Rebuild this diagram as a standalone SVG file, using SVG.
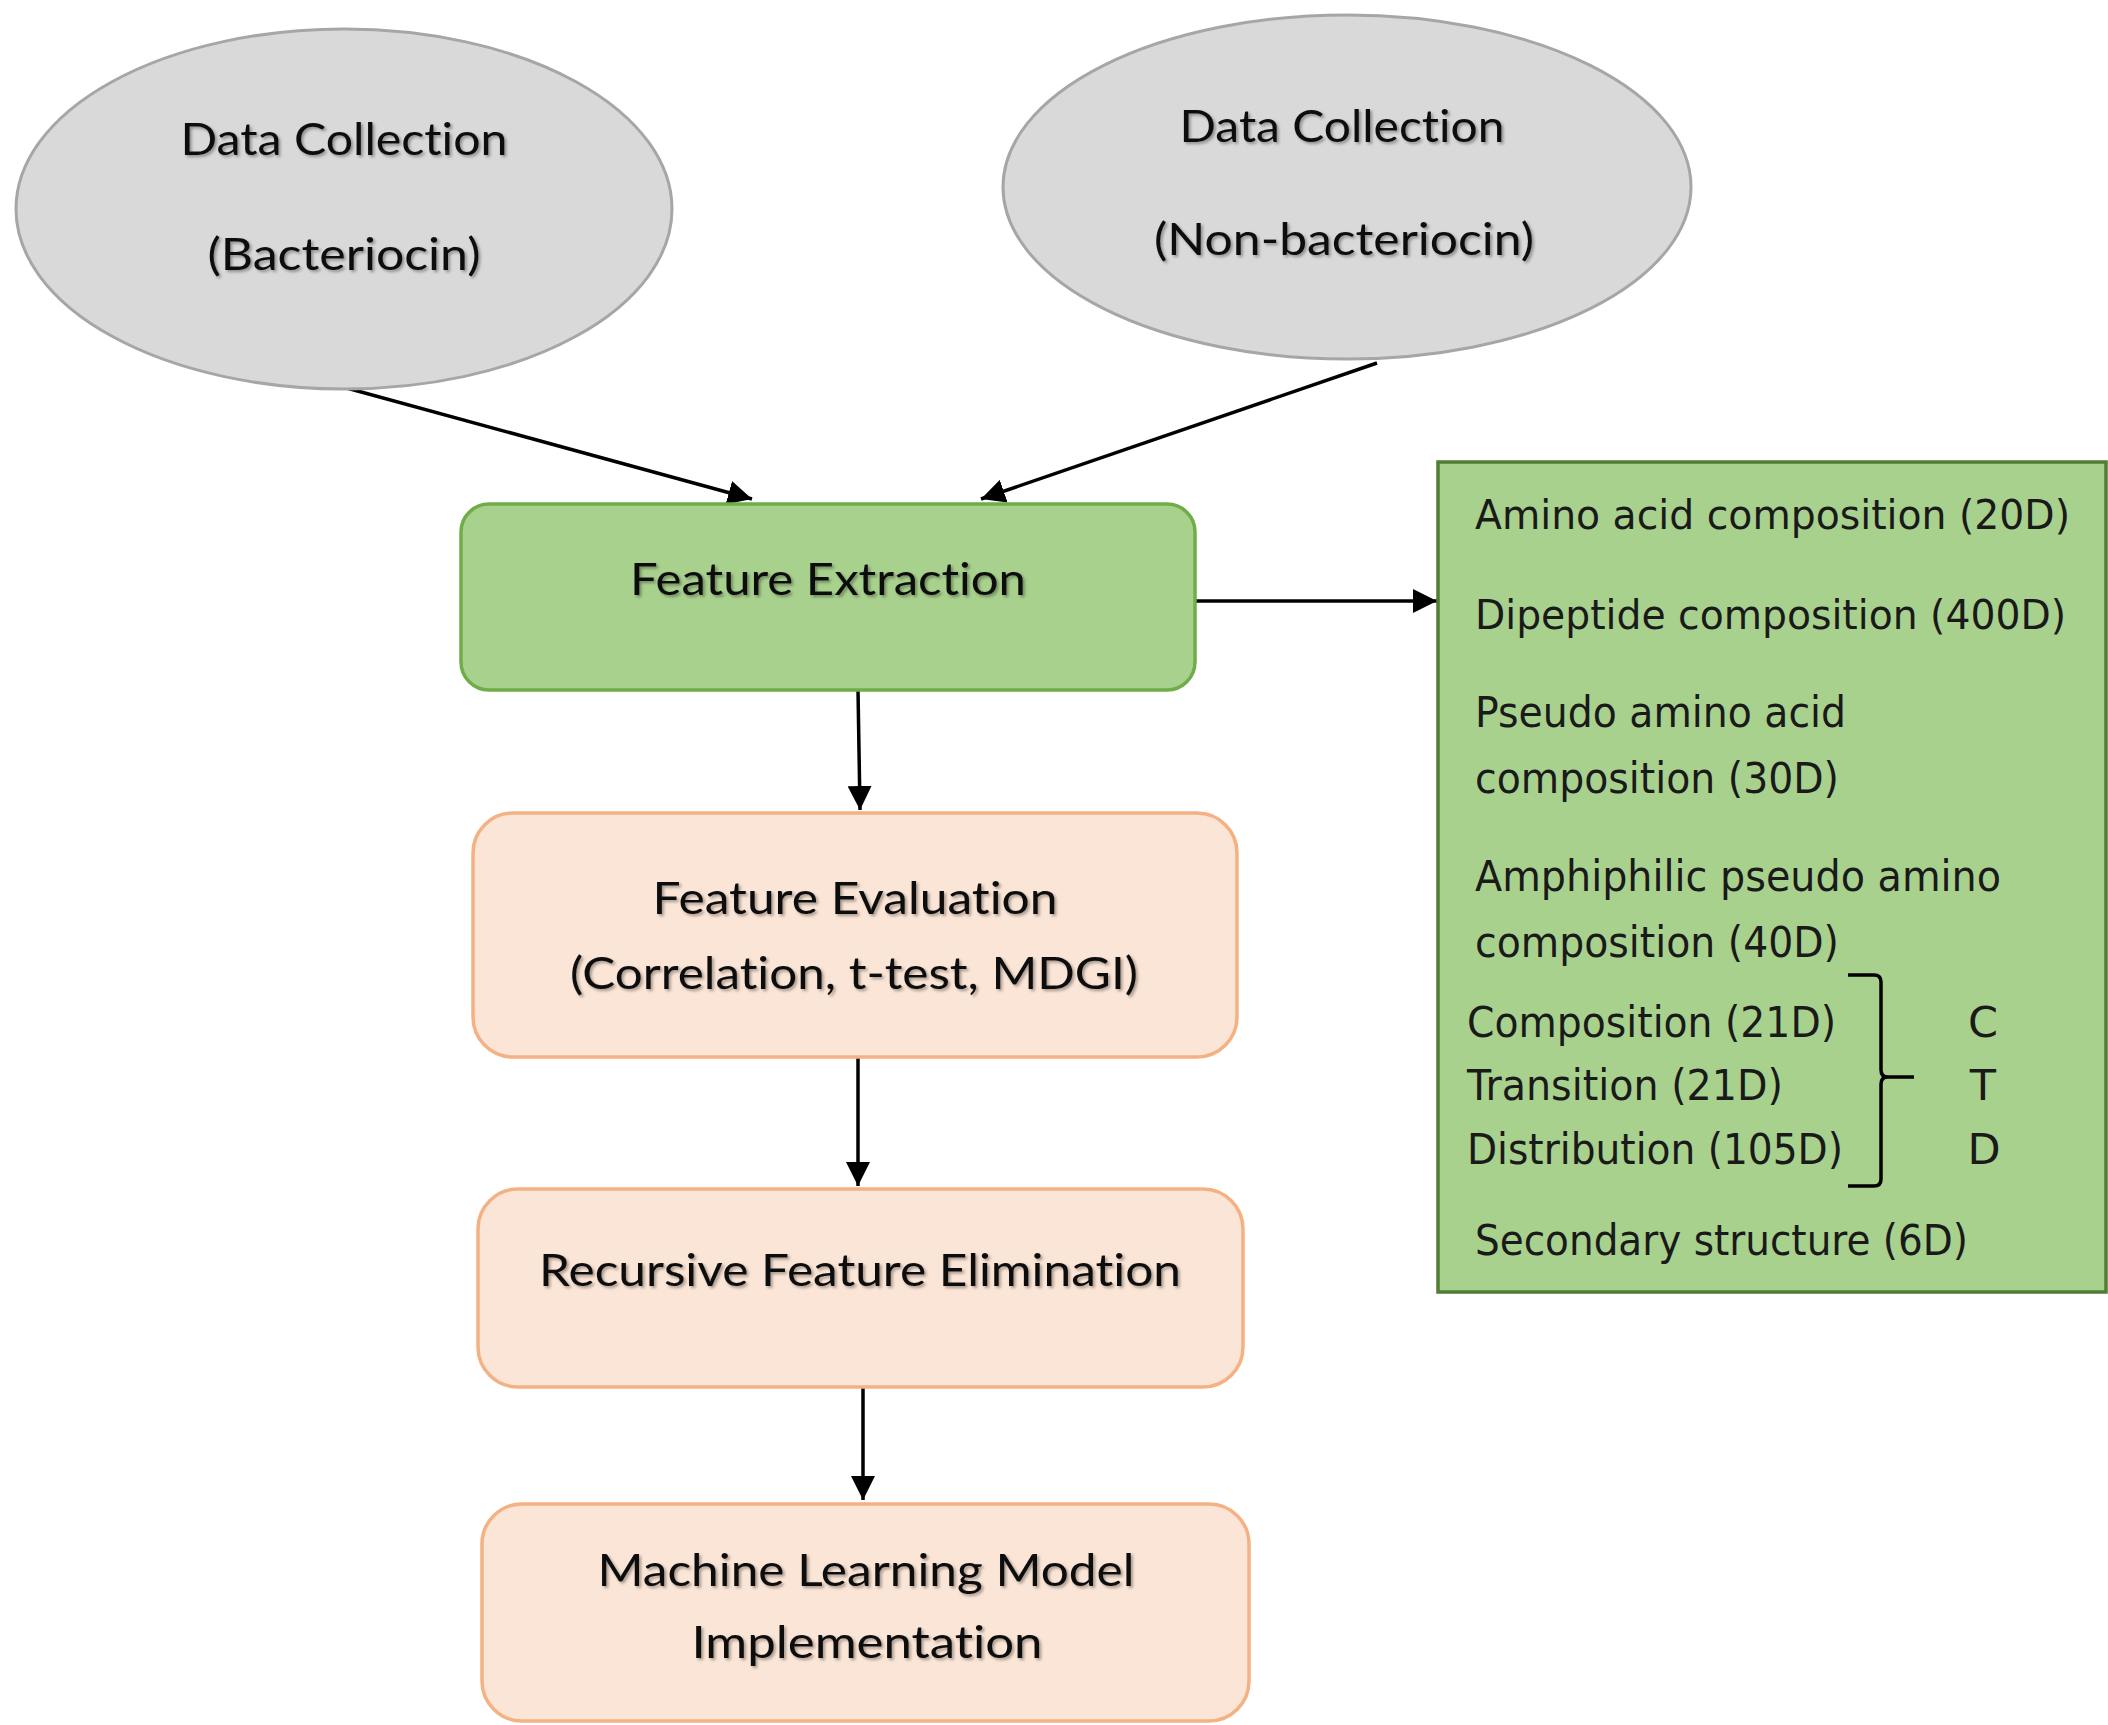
<svg xmlns="http://www.w3.org/2000/svg" width="2108" height="1725" viewBox="0 0 2108 1725">
<defs>
<style>
.ell{fill:#d9d9d9;stroke:#a6a6a6;stroke-width:3}
.grn{fill:#a9d18e;stroke:#70ad47;stroke-width:3.5}
.pch{fill:#fbe5d6;stroke:#f4b183;stroke-width:3.5}
.panel{fill:#a9d18e;stroke:#507e32;stroke-width:3.5}
.t{font-family:Lato,"Open Sans",sans-serif;font-size:45px;fill:#111;text-anchor:middle;font-variant-ligatures:none;filter:url(#sh)}
.r{font-family:"DejaVu Sans",Verdana,sans-serif;font-size:43px;fill:#1a1a1a}
.w{font-size:40px}
.con{stroke:#000;stroke-width:3.5;fill:none;marker-end:url(#ah)}
</style>
<marker id="ah" markerUnits="userSpaceOnUse" markerWidth="26" markerHeight="24" refX="24" refY="12" orient="auto">
<path d="M0,0 L24,12 L0,24 z" fill="#000"/>
</marker>
<filter id="sh" x="-10%" y="-30%" width="120%" height="160%">
<feDropShadow dx="2" dy="2" stdDeviation="1.5" flood-color="#000" flood-opacity="0.35"/>
</filter>
</defs>
<rect width="2108" height="1725" fill="#fff"/>

<g id="connectors">
<line class="con" x1="343" y1="387" x2="752" y2="499"/>
<line class="con" x1="1377" y1="363" x2="981" y2="499"/>
<line class="con" x1="1195" y1="601" x2="1437" y2="601"/>
<line class="con" x1="858" y1="690" x2="860" y2="810"/>
<line class="con" x1="858" y1="1057" x2="858" y2="1186"/>
<line class="con" x1="863" y1="1388" x2="863" y2="1500"/>
</g>

<g id="dc-bacteriocin">
<ellipse class="ell" cx="344" cy="209" rx="328" ry="180"/>
<text class="t" x="344" y="155" textLength="327" lengthAdjust="spacingAndGlyphs">Data Collection</text>
<text class="t" x="344" y="270" textLength="273" lengthAdjust="spacingAndGlyphs">(Bacteriocin)</text>
</g>

<g id="dc-nonbacteriocin">
<ellipse class="ell" cx="1347" cy="187" rx="344" ry="172"/>
<text class="t" x="1342" y="142" textLength="325" lengthAdjust="spacingAndGlyphs">Data Collection</text>
<text class="t" x="1344" y="255" textLength="380" lengthAdjust="spacingAndGlyphs">(Non-bacteriocin)</text>
</g>

<g id="feature-extraction">
<rect class="grn" x="461" y="504" width="734" height="186" rx="28"/>
<text class="t" x="828" y="595" textLength="396" lengthAdjust="spacingAndGlyphs">Feature Extraction</text>
</g>

<g id="feature-evaluation">
<rect class="pch" x="473" y="813" width="764" height="244" rx="40"/>
<text class="t" x="855" y="914" textLength="405" lengthAdjust="spacingAndGlyphs">Feature Evaluation</text>
<text class="t" x="854" y="989" textLength="568" lengthAdjust="spacingAndGlyphs">(Correlation, t-test, MDGI)</text>
</g>

<g id="rfe">
<rect class="pch" x="478" y="1189" width="765" height="198" rx="40"/>
<text class="t" x="860" y="1286" textLength="642" lengthAdjust="spacingAndGlyphs">Recursive Feature Elimination</text>
</g>

<g id="ml-model">
<rect class="pch" x="482" y="1504" width="767" height="217" rx="40"/>
<text class="t" x="866" y="1586" textLength="537" lengthAdjust="spacingAndGlyphs">Machine Learning Model</text>
<text class="t" x="867" y="1658" textLength="351" lengthAdjust="spacingAndGlyphs">Implementation</text>
</g>

<g id="feature-list">
<rect class="panel" x="1438" y="462" width="668" height="830"/>
<text class="r w" x="1475" y="529" textLength="595" lengthAdjust="spacingAndGlyphs">Amino acid composition (20D)</text>
<text class="r w" x="1475" y="629" textLength="591" lengthAdjust="spacingAndGlyphs">Dipeptide composition (400D)</text>
<text class="r" x="1475" y="727" textLength="371" lengthAdjust="spacingAndGlyphs">Pseudo amino acid</text>
<text class="r" x="1475" y="793" textLength="364" lengthAdjust="spacingAndGlyphs">composition (30D)</text>
<text class="r" x="1475" y="891" textLength="526" lengthAdjust="spacingAndGlyphs">Amphiphilic pseudo amino</text>
<text class="r" x="1475" y="957" textLength="364" lengthAdjust="spacingAndGlyphs">composition (40D)</text>
<text class="r" x="1467" y="1037" textLength="369" lengthAdjust="spacingAndGlyphs">Composition (21D)</text>
<text class="r" x="1467" y="1100" textLength="316" lengthAdjust="spacingAndGlyphs">Transition (21D)</text>
<text class="r" x="1467" y="1164" textLength="376" lengthAdjust="spacingAndGlyphs">Distribution (105D)</text>
<path d="M1848,975 L1874,975 Q1881,975 1881,982 L1881,1070 Q1881,1077 1888,1077 L1914,1077 M1888,1077 Q1881,1077 1881,1084 L1881,1179 Q1881,1186 1874,1186 L1848,1186" fill="none" stroke="#000" stroke-width="3.5"/>
<text class="r" x="1983" y="1037" text-anchor="middle">C</text>
<text class="r" x="1983" y="1100" text-anchor="middle">T</text>
<text class="r" x="1984" y="1164" text-anchor="middle">D</text>
<text class="r" x="1475" y="1255" textLength="493" lengthAdjust="spacingAndGlyphs">Secondary structure (6D)</text>
</g>
</svg>
